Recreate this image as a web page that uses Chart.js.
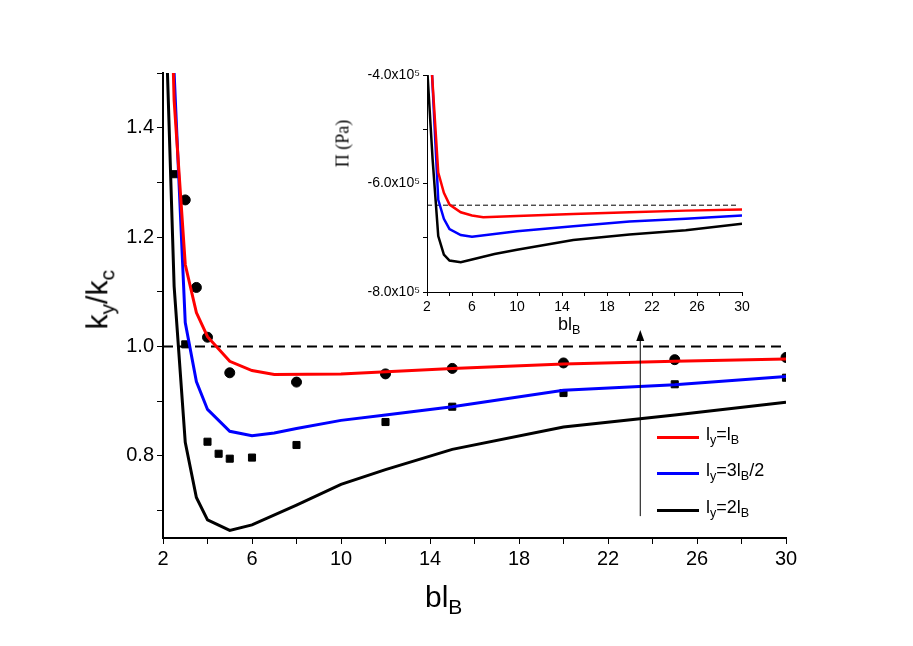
<!DOCTYPE html>
<html><head><meta charset="utf-8">
<script src="https://cdn.jsdelivr.net/npm/chart.js@4/dist/chart.umd.min.js"></script>
<style>
body{margin:0;background:#fff;font-family:"Liberation Sans",Arial,sans-serif;}
#wrap{position:relative;width:913px;height:646px;}
canvas{position:absolute;}
.t{position:absolute;color:#000;white-space:nowrap;}
sub{font-size:70%;vertical-align:-0.35em;}
.lg{position:absolute;font-size:18px;}
.ln{position:absolute;height:3px;width:42px;}
</style></head>
<body><div id="wrap">
<canvas id="main" width="913" height="646" style="left:0;top:0"></canvas>
<canvas id="ins" width="430" height="300" style="left:330px;top:55px"></canvas>
<div class="t" style="left:425px;top:580px;font-size:30px;">bl<sub>B</sub></div>
<div class="t" style="left:40px;top:280px;font-size:30px;transform:rotate(-90deg);transform-origin:center;width:120px;text-align:center;">k<sub>y</sub>/k<sub>c</sub></div>
<div class="t" style="left:558px;top:314px;font-size:18px;">bl<sub>B</sub></div>
<div class="t" style="left:303px;top:133px;font-size:18px;font-family:'Liberation Serif',serif;transform:rotate(-90deg);width:80px;text-align:center;">Π (Pa)</div>
<div class="ln" style="left:657px;top:436px;background:#ff0000"></div>
<div class="lg" style="left:706px;top:424px;">l<sub>y</sub>=l<sub>B</sub></div>
<div class="ln" style="left:657px;top:472px;background:#0000ff"></div>
<div class="lg" style="left:706px;top:460px;">l<sub>y</sub>=3l<sub>B</sub>/2</div>
<div class="ln" style="left:657px;top:509px;background:#000"></div>
<div class="lg" style="left:706px;top:497px;">l<sub>y</sub>=2l<sub>B</sub></div>
</div>
<script>
// main chart data
const xRed=[2.2,2.5,3,3.5,4,5,6,7,10,15,20,25,30];
const yRed=[1.9,1.45,1.15,1.062,1.018,0.973,0.956,0.949,0.95,0.96,0.968,0.973,0.977];
const xBlue=[2.2,2.5,3,3.5,4,5,6,7,8,10,12,15,20,25,30];
const yBlue=[1.9,1.5,1.044,0.936,0.885,0.845,0.837,0.842,0.85,0.865,0.875,0.89,0.92,0.93,0.945];
const xBlack=[2.1,2.2,2.5,3,3.5,4,5,6,8,10,12,15,20,25,30];
const yBlack=[1.8,1.5,1.11,0.825,0.724,0.683,0.664,0.674,0.71,0.748,0.775,0.812,0.853,0.875,0.898];
const xCirc=[3,3.5,4,5,8,12,15,20,25,30];
const yCirc=[1.268,1.108,1.017,0.952,0.935,0.95,0.96,0.97,0.976,0.98];
const xSq=[2.5,3,4,4.5,5,6,8,12,15,20,25,30];
const ySq=[1.315,1.004,0.826,0.804,0.795,0.797,0.82,0.862,0.89,0.915,0.931,0.943];
const refX=[2,30], refY=[1,1];
const arrowX=[23.45,23.45], arrowY=[0.69,1.03];
// inset data (units of 1e5 Pa)
const ixRed=[2.3,2.45,3,3.5,4,5,6,7,10,15,20,25,30];
const iyRed=[-3.5,-4,-5.8,-6.17,-6.39,-6.53,-6.59,-6.62,-6.6,-6.56,-6.53,-6.5,-6.48];
const ixBlue=[2.3,2.45,3,3.5,4,5,6,10,15,20,25,30];
const iyBlue=[-3.5,-4,-6.3,-6.65,-6.84,-6.95,-6.98,-6.88,-6.79,-6.7,-6.65,-6.59];
const ixBlack=[2.05,2.5,3,3.5,4,5,6,8,10,15,20,25,30];
const iyBlack=[-4,-5.56,-6.97,-7.31,-7.42,-7.45,-7.4,-7.3,-7.22,-7.04,-6.94,-6.86,-6.74];
const irefX=[2,29.5], irefY=[-6.4,-6.4];

const pts=(xs,ys,s)=>xs.map((x,i)=>({x:x,y:ys[i]*(s||1)}));
const font='"Liberation Sans",Arial,sans-serif';
const line=(d,c,w)=>({data:d,borderColor:c,borderWidth:w,pointRadius:0,fill:false,tension:0,showLine:true});

const arrowPlugin={id:'arrow',afterDatasetsDraw(ch){
  const x=ch.scales.x,y=ch.scales.y,c=ch.ctx;
  const px=x.getPixelForValue(arrowX[0]),y0=y.getPixelForValue(arrowY[0]),y1=y.getPixelForValue(arrowY[1]);
  c.save();c.strokeStyle='#000';c.fillStyle='#000';c.lineWidth=1;
  c.beginPath();c.moveTo(px,y0);c.lineTo(px,y1+8);c.stroke();
  c.beginPath();c.moveTo(px,y1);c.lineTo(px-4,y1+11);c.lineTo(px+4,y1+11);c.closePath();c.fill();c.restore();}};

new Chart(document.getElementById('main'),{type:'scatter',
 data:{datasets:[
  line(pts(xRed,yRed),'#ff0000',3),
  line(pts(xBlue,yBlue),'#0000ff',3),
  line(pts(xBlack,yBlack),'#000',3),
  Object.assign(line(pts(refX,refY),'#000',2),{borderDash:[10,6]}),
  {data:pts(xCirc,yCirc),pointStyle:'circle',pointRadius:5,backgroundColor:'#000',borderColor:'#000',showLine:false},
  {data:pts(xSq,ySq),pointStyle:'rect',pointRadius:5,backgroundColor:'#000',borderColor:'#000',showLine:false}
 ]},
 options:{responsive:false,animation:false,
  layout:{padding:{left:0,top:73,right:127,bottom:0}},
  plugins:{legend:{display:false},tooltip:{enabled:false}},
  scales:{
   x:{type:'linear',min:2,max:30,afterFit:s=>{s.height=108;},
      border:{color:'#000',width:2},grid:{drawOnChartArea:false,color:'#000',tickLength:6},
      ticks:{stepSize:2,color:'#000',font:{size:20,family:font},maxRotation:0,autoSkip:false,
       callback:v=>((v-2)%4===0?String(v):'')}},
   y:{type:'linear',min:0.65,max:1.5,afterFit:s=>{s.width=163;},
      border:{color:'#000',width:2},grid:{drawOnChartArea:false,color:'#000',tickLength:6},
      afterBuildTicks:s=>{s.ticks=[0.7,0.8,0.9,1.0,1.1,1.2,1.3,1.4,1.5].map(v=>({value:v}));},
      ticks:{color:'#000',font:{size:20,family:font},
       callback:v=>([0.8,1.0,1.2,1.4].some(t=>Math.abs(t-v)<1e-6)?v.toFixed(1):'')}}
  }},plugins:[arrowPlugin]});

new Chart(document.getElementById('ins'),{type:'scatter',
 data:{datasets:[
  line(pts(ixRed,iyRed),'#ff0000',2.5),
  line(pts(ixBlue,iyBlue),'#0000ff',2.5),
  line(pts(ixBlack,iyBlack),'#000',2.5),
  Object.assign(line(pts(irefX,irefY),'#000',1),{borderDash:[5,3]})
 ]},
 options:{responsive:false,animation:false,
  layout:{padding:{left:0,top:20,right:18,bottom:0}},
  plugins:{legend:{display:false},tooltip:{enabled:false}},
  scales:{
   x:{type:'linear',min:2,max:30,afterFit:s=>{s.height=63;},
      border:{color:'#000',width:1},grid:{drawOnChartArea:false,color:'#000',tickLength:4},
      ticks:{stepSize:2,color:'#000',font:{size:14,family:font},maxRotation:0,autoSkip:false,
       callback:v=>((v-2)%4===0?String(v):'')}},
   y:{type:'linear',min:-8,max:-4,afterFit:s=>{s.width=97;},
      border:{color:'#000',width:1},grid:{drawOnChartArea:false,color:'#000',tickLength:4},
      ticks:{stepSize:1,color:'#000',font:{size:14,family:font},
       callback:v=>(v%2===0?v.toFixed(1)+'x10\u2075':'')}}
  }}});
</script></body></html>
